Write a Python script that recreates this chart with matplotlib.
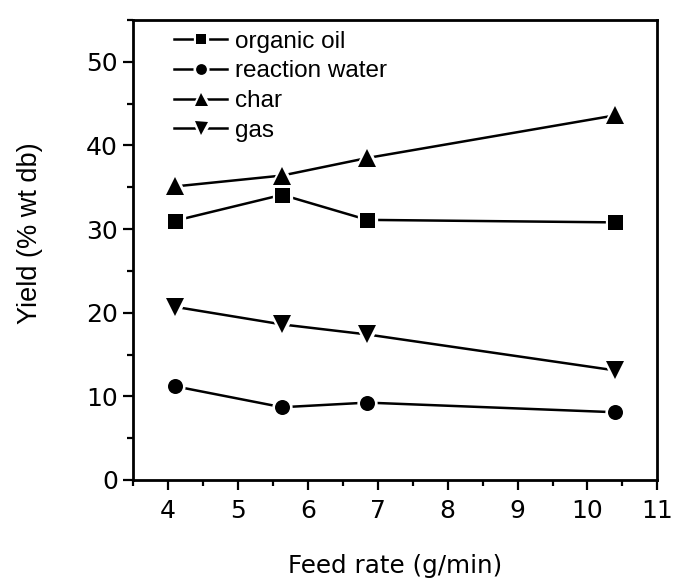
import matplotlib
matplotlib.use("Agg")
import matplotlib.pyplot as plt
from matplotlib.markers import MarkerStyle
from matplotlib.ticker import MultipleLocator
from matplotlib.legend_handler import HandlerTuple

# Feed rate (g/min)
feed_rate = [4.1, 5.63, 6.85, 10.4]

# Product yields (% wt db)
organic_oil = [31.0, 34.1, 31.1, 30.8]
reaction_water = [11.2, 8.7, 9.25, 8.1]
char = [35.1, 36.4, 38.5, 43.6]
gas = [20.7, 18.6, 17.4, 13.1]

series = [
    ("organic oil", organic_oil, "s", 10.8),
    ("reaction water", reaction_water, "o", 10.8),
    ("char", char, "^", 13.0),
    ("gas", gas, "v", 13.0),
]

plt.rcParams["font.family"] = ["Liberation Sans", "DejaVu Sans"]

fig = plt.figure(figsize=(6.73, 5.79), dpi=100)
ax = fig.add_axes([0.198, 0.171, 0.7787, 0.7945])

handles, labels = [], []
for label, values, mk, size in series:
    # connecting line
    ln, = ax.plot(feed_rate, values, color="black", lw=1.8, zorder=2)
    # white halo that opens a small gap where the line meets a symbol
    halo, = ax.plot(feed_rate, values, ls="none",
                    marker=MarkerStyle(mk, joinstyle="round"), ms=size,
                    mfc="white", mec="white", mew=3.8, zorder=3)
    sym, = ax.plot(feed_rate, values, ls="none", marker=mk, ms=size,
                   mfc="black", mec="black", mew=0, zorder=4)
    handles.append((ln, halo, sym))
    labels.append(label)

ax.set_xlim(3.5, 11)
ax.set_ylim(0, 55)
ax.xaxis.set_major_locator(MultipleLocator(1))
ax.xaxis.set_minor_locator(MultipleLocator(0.5))
ax.yaxis.set_major_locator(MultipleLocator(10))
ax.yaxis.set_minor_locator(MultipleLocator(5))

for s in ax.spines.values():
    s.set_linewidth(2.0)
ax.tick_params(which="major", direction="out", length=7, width=1.6, labelsize=18)
ax.tick_params(axis="x", which="major", pad=7)
ax.tick_params(axis="y", which="major", pad=4)
ax.tick_params(which="minor", direction="out", length=4, width=1.6)
for t in ax.get_xticklabels() + ax.get_yticklabels():
    t.set_family("DejaVu Sans")

ax.set_xlabel("Feed rate (g/min)", fontsize=17.7, family="DejaVu Sans", labelpad=22)
ax.set_ylabel("Yield (% wt db)", fontsize=19.5)
ax.yaxis.set_label_coords(-0.172, 0.537)

ax.legend(handles, labels, handler_map={tuple: HandlerTuple(ndivide=1)},
          loc="upper left", frameon=False, fontsize=17.5, markerscale=0.72,
          handlelength=2.15, handletextpad=0.35, labelspacing=0.32,
          borderaxespad=0.0, bbox_to_anchor=(0.06, 0.998))

fig.savefig("out.png", dpi=100)
